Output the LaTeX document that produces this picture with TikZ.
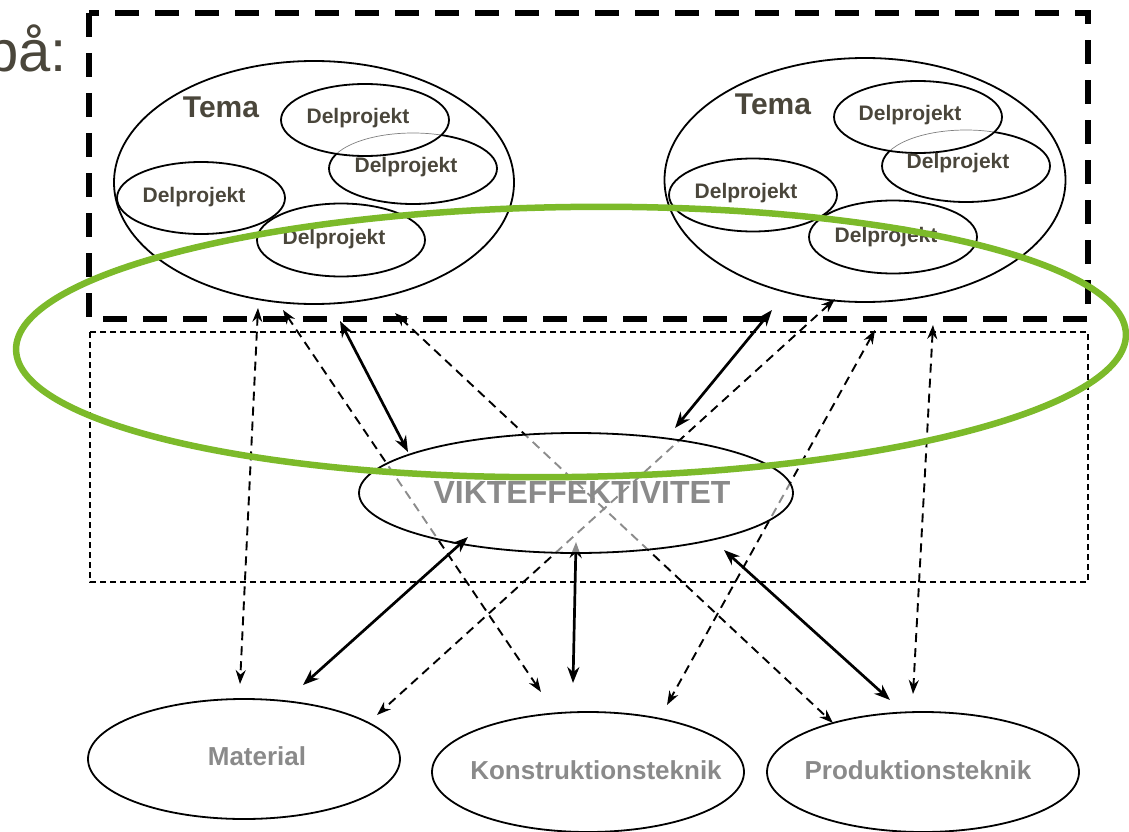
\documentclass[tikz,border=0pt]{standalone}
\usepackage{fontspec}
\setmainfont{Liberation Sans}
\usetikzlibrary{shapes.geometric,arrows.meta}
\definecolor{txtdark}{RGB}{74,70,59}
\definecolor{txtgray}{RGB}{138,138,138}
\definecolor{lgreen}{RGB}{124,186,42}
\begin{document}
\begin{tikzpicture}[x=1pt,y=-1pt,
  oval/.style 2 args={ellipse, draw, line width=1.8pt, minimum width=#1, minimum height=#2, inner sep=0pt},
  temat/.style={font=\fontsize{30}{30}\selectfont\bfseries, text=txtdark, inner sep=0pt},
  dtxt/.style={font=\fontsize{21}{21}\selectfont\bfseries, text=txtdark, inner sep=0pt},
  btxt/.style={font=\fontsize{26}{26}\selectfont\bfseries, text=txtgray, inner sep=0pt},
  dar/.style={line width=1.9pt, dash pattern=on 9pt off 6pt,
    {Stealth[length=14pt,width=10pt]}-{Stealth[length=14pt,width=10pt]}},
  sar/.style={line width=2.7pt,
    {Stealth[length=16pt,width=12pt]}-{Stealth[length=16pt,width=12pt]}},
  hidearc/.style={draw=gray, line width=0.7pt}
]
\useasboundingbox (0,0) rectangle (1129,832);

% heading fragment
\node[anchor=base east, font=\fontsize{58}{58}\selectfont, text=txtdark, inner sep=0pt] (paa) at (67,72) {på:};

% frames
\draw[line width=1.6pt, dash pattern=on 6pt off 4pt] (90,332) rectangle (1088,582);
\draw[line width=6pt, dash pattern=on 24pt off 16pt] (89,13) rectangle (1088,319);

% left theme
\node[oval={400}{243}] (temaL) at (314,182.5) {};
\node[temat] (temaLt) at (221,107) {Tema};
\node[oval={168}{71}] (dL2) at (413,168.5) {};
\node[oval={168}{72}, fill=white] (dL1) at (365,120) {};
\begin{scope}
  \clip (365,120) ellipse [x radius=83, y radius=35];
  \draw[hidearc] (413,168.5) ellipse [x radius=84, y radius=35.5];
\end{scope}
\node[oval={168}{72}] (dL3) at (201,198) {};
\node[oval={168}{73}] (dL4) at (341,240) {};
\node[dtxt] (dL1t) at (358,118) {Delprojekt};
\node[dtxt] (dL2t) at (406,167) {Delprojekt};
\node[dtxt] (dL3t) at (194,197) {Delprojekt};
\node[dtxt] (dL4t) at (334,239) {Delprojekt};

% right theme
\node[oval={401}{244}] (temaR) at (865,180) {};
\node[temat] (temaRt) at (773,104) {Tema};
\node[oval={168}{72}] (dR2) at (966,166) {};
\node[oval={168}{72}, fill=white] (dR1) at (918,117) {};
\begin{scope}
  \clip (918,117) ellipse [x radius=83, y radius=35];
  \draw[hidearc] (966,166) ellipse [x radius=84, y radius=36];
\end{scope}
\node[oval={168}{73}] (dR3) at (753,195) {};
\node[oval={168}{73}] (dR4) at (893,237) {};
\node[dtxt] (dR1t) at (910,115) {Delprojekt};
\node[dtxt] (dR2t) at (958,163) {Delprojekt};
\node[dtxt] (dR3t) at (746,193) {Delprojekt};
\node[dtxt] (dR4t) at (886,237) {Delprojekt};

% connector end points
\coordinate (a1) at (258,308);  \coordinate (a2) at (240,684);
\coordinate (b1) at (283,310);  \coordinate (b2) at (541,692);
\coordinate (d1) at (395,313);  \coordinate (d2) at (833,723);
\coordinate (f1) at (835,299);  \coordinate (f2) at (377,715);
\coordinate (g1) at (875,330);  \coordinate (g2) at (667,705);
\coordinate (h1) at (933,325);  \coordinate (h2) at (913,694);
\coordinate (j1) at (576,542);  \coordinate (j2) at (573,683);
\coordinate (c1) at (340,321);  \coordinate (c2) at (408,452);
\coordinate (e1) at (772,310);  \coordinate (e2) at (675,428);
\coordinate (i1) at (468,537);  \coordinate (i2) at (303,685);
\coordinate (k1) at (724,550);  \coordinate (k2) at (890,700);

% dashed connectors
\draw[dar] (a1) -- (a2);
\draw[dar] (b1) -- (b2);
\draw[dar] (d1) -- (d2);
\draw[dar] (f1) -- (f2);
\draw[dar] (g1) -- (g2);
\draw[dar] (h1) -- (h2);
\draw[sar] (j1) -- (j2);

% central ellipse
\node[oval={434}{120}, fill=white, fill opacity=0.55] (vikt) at (576,493) {};
\node[font=\fontsize{32}{32}\selectfont\bfseries, text=txtgray, inner sep=0pt] (viktt) at (582,492) {VIKTEFFEKTIVITET};

% solid connectors
\draw[sar] (c1) -- (c2);
\draw[sar] (e1) -- (e2);
\draw[sar] (i1) -- (i2);
\draw[sar] (k1) -- (k2);

% bottom ellipses
\node[oval={312}{120}] (mat) at (244,759) {};
\node[oval={312}{120}] (kon) at (588,772) {};
\node[oval={312}{120}] (prod) at (923,772) {};
\node[btxt] (matt) at (257,756) {Material};
\node[btxt] (kont) at (596,770) {Konstruktionsteknik};
\node[btxt] (prodt) at (918,770) {Produktionsteknik};

% green ring
\draw[lgreen, line width=6.5pt, rotate around={0.8:(571,342)}] (571,342) ellipse [x radius=555, y radius=135];
\end{tikzpicture}
\end{document}
